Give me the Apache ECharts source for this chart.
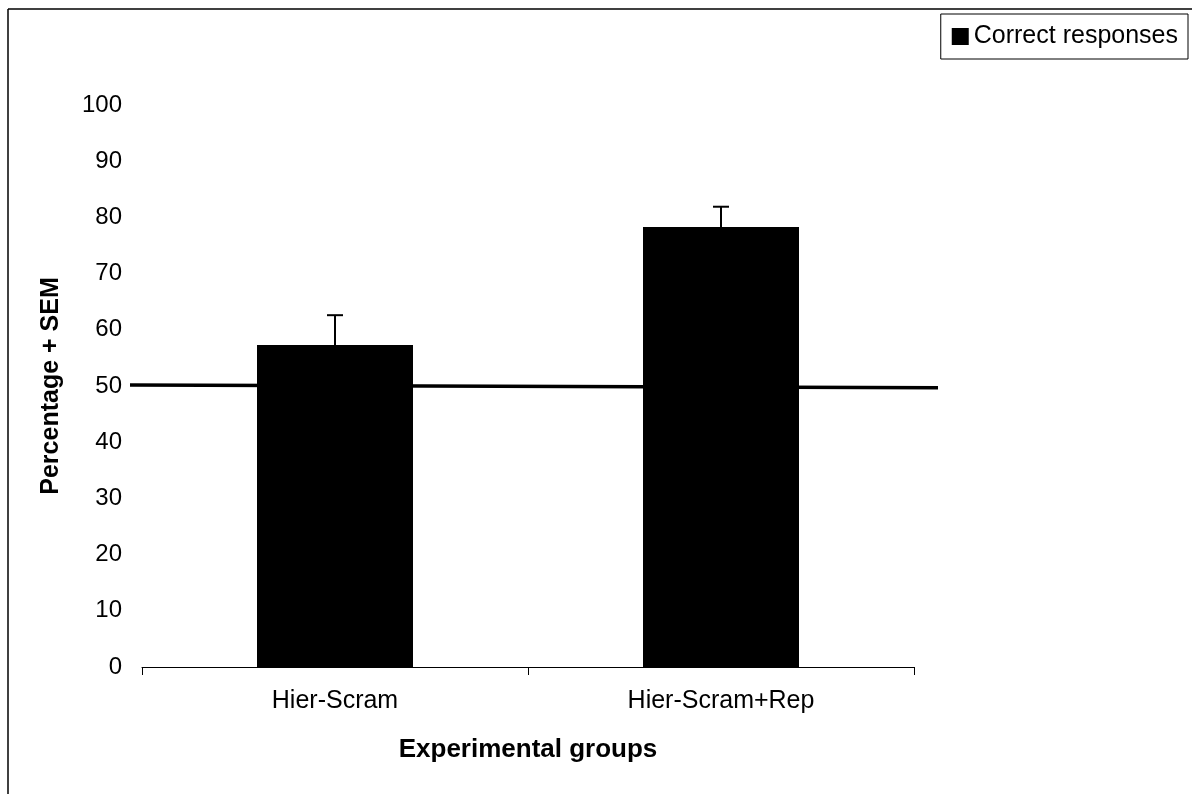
<!DOCTYPE html>
<html>
<head>
<meta charset="utf-8">
<script src="https://cdn.jsdelivr.net/npm/echarts@6/dist/echarts.min.js"></script>
<style>
html,body{margin:0;padding:0;background:#fff;}
#c{width:1192px;height:794px;}
</style>
</head>
<body>
<div id="c"></div>
<script>
// ---- data ----
const categories = ['Hier-Scram', 'Hier-Scram+Rep'];
const seriesName = 'Correct responses';
const correctMeans = [57.3, 78.3];
const correctSEM = [5.3, 3.6];
const chanceLineX = [0, 1];
const chanceLineY = [50.2, 49.7];
const yTicks = { min: 0, max: 100, interval: 10 };
const xAxisTitle = 'Experimental groups';
const yAxisTitle = 'Percentage + SEM';

const FONT = 'Liberation Sans';
const chart = echarts.init(document.getElementById('c'));

const errData = correctMeans.map((m, i) => [i, m, m + correctSEM[i]]);

chart.setOption({
  animation: false,
  backgroundColor: '#fff',
  textStyle: { fontFamily: FONT, color: '#000' },
  graphic: [
    { type: 'line', shape: { x1: 8, y1: 9, x2: 1192, y2: 9 }, style: { stroke: '#000', lineWidth: 1.5 } },
    { type: 'line', shape: { x1: 8, y1: 9, x2: 8, y2: 794 }, style: { stroke: '#000', lineWidth: 1.5 } }
  ],
  legend: {
    data: [seriesName],
    right: 4, top: 14,
    icon: 'rect', itemWidth: 17, itemHeight: 17,
    borderColor: '#000', borderWidth: 1,
    padding: [8, 10, 8, 11],
    textStyle: { fontSize: 25, color: '#000', fontFamily: FONT, lineHeight: 29 }
  },
  grid: [
    { left: 142, right: 278, top: 105, bottom: 127 },
    { left: 130, right: 254, top: 105, bottom: 127 }
  ],
  xAxis: [
    {
      type: 'category', data: categories, gridIndex: 0,
      axisLine: { lineStyle: { color: '#000', width: 1 } },
      axisTick: { show: true, length: 8, lineStyle: { color: '#000' } },
      axisLabel: { fontSize: 25, color: '#000', margin: 22, fontFamily: FONT },
      name: xAxisTitle, nameLocation: 'middle', nameGap: 70,
      nameTextStyle: { fontSize: 26, fontWeight: 'bold', color: '#000', fontFamily: FONT }
    },
    { type: 'value', gridIndex: 1, min: 0, max: 1, show: false }
  ],
  yAxis: [
    {
      type: 'value', gridIndex: 0, min: yTicks.min, max: yTicks.max, interval: yTicks.interval,
      axisLine: { show: false }, axisTick: { show: false }, splitLine: { show: false },
      axisLabel: { fontSize: 24, color: '#000', margin: 20, fontFamily: FONT },
      name: yAxisTitle, nameLocation: 'middle', nameGap: 78, nameRotate: 90,
      nameTextStyle: { fontSize: 25, fontWeight: 'bold', color: '#000', fontFamily: FONT }
    },
    { type: 'value', gridIndex: 1, min: yTicks.min, max: yTicks.max, show: false }
  ],
  series: [
    {
      name: 'chance', type: 'line', xAxisIndex: 1, yAxisIndex: 1,
      data: chanceLineX.map((x, i) => [x, chanceLineY[i]]),
      showSymbol: false, symbol: 'none',
      lineStyle: { color: '#000', width: 3.5 }, z: 1, silent: true
    },
    {
      name: seriesName, type: 'bar', xAxisIndex: 0, yAxisIndex: 0,
      data: correctMeans, barWidth: 156,
      itemStyle: { color: '#000' }, z: 3
    },
    {
      name: 'sem', type: 'custom', xAxisIndex: 0, yAxisIndex: 0, z: 4,
      data: errData,
      renderItem: function (params, api) {
        const x = api.value(0);
        const p0 = api.coord([x, api.value(1)]);
        const p1 = api.coord([x, api.value(2)]);
        const half = 8;
        return {
          type: 'group',
          children: [
            { type: 'line', shape: { x1: p0[0], y1: p0[1], x2: p1[0], y2: p1[1] }, style: { stroke: '#000', lineWidth: 2 } },
            { type: 'line', shape: { x1: p1[0] - half, y1: p1[1], x2: p1[0] + half, y2: p1[1] }, style: { stroke: '#000', lineWidth: 2 } }
          ]
        };
      }
    }
  ]
});
</script>
</body>
</html>
